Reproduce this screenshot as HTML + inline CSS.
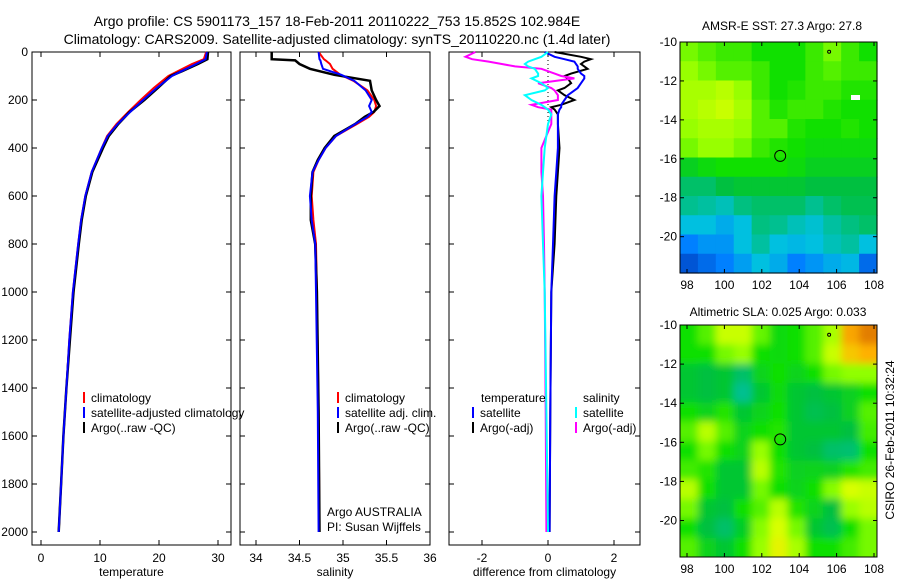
<!DOCTYPE html>
<html><head><meta charset="utf-8"><style>
body{margin:0;background:#fff}
svg{display:block;font-family:"Liberation Sans",sans-serif}
</style></head><body>
<svg id="c" width="900" height="580" xmlns="http://www.w3.org/2000/svg">
<text x="337" y="26" font-size="14" text-anchor="middle">Argo profile: CS 5901173_157 18-Feb-2011 20110222_753 15.852S 102.984E</text>
<text x="337" y="44" font-size="14" text-anchor="middle">Climatology: CARS2009. Satellite-adjusted climatology: synTS_20110220.nc (1.4d later)</text>
<text x="782" y="30" font-size="12" text-anchor="middle">AMSR-E SST: 27.3 Argo: 27.8</text>
<text x="778" y="316" font-size="12" text-anchor="middle">Altimetric SLA: 0.025 Argo: 0.033</text>
<text transform="translate(894,440) rotate(-90)" font-size="12" text-anchor="middle">CSIRO 26-Feb-2011 10:32:24</text>
<defs><filter id="bl"><feGaussianBlur stdDeviation="4"/></filter>
<clipPath id="cp2"><rect x="680" y="325" width="197" height="232"/></clipPath></defs>
</svg>
<script>
// ---- data ----
const depths=[0,30,50,80,100,150,200,250,300,350,400,500,600,700,800,1000,1200,1400,1600,1800,2000];
const tempClim=[28.0,27.6,25.6,23.2,21.6,19.1,16.9,14.8,12.8,11.2,10.3,8.6,7.5,6.8,6.3,5.4,4.8,4.3,3.8,3.4,3.0];
const tempSat=[28.1,27.9,26.3,23.8,22.2,19.6,17.3,15.1,13.0,11.3,10.3,8.6,7.5,6.8,6.3,5.4,4.8,4.3,3.8,3.4,3.0];
const tempArgo=[28.3,28.2,26.6,23.9,22.0,19.8,17.5,15.0,13.1,11.5,10.5,8.7,7.6,6.9,6.4,5.5,4.9,4.3,3.8,3.4,3.0];
const salDepths=[0,30,35,50,70,95,120,160,200,225,250,270,300,350,400,450,500,600,700,800,1000,1500,2000];
const salClim=[34.72,34.78,34.8,34.85,34.88,34.97,35.12,35.28,35.36,35.38,35.36,35.3,35.16,34.92,34.8,34.72,34.66,34.64,34.66,34.69,34.7,34.72,34.73];
const salSat=[34.72,34.73,34.74,34.75,34.77,34.98,35.13,35.26,35.33,35.3,35.33,35.28,35.14,34.92,34.8,34.72,34.65,34.62,34.64,34.68,34.69,34.71,34.72];
const salArgo=[34.18,34.18,34.45,34.5,34.62,34.9,35.31,35.33,35.38,35.42,35.35,35.25,35.14,34.9,34.79,34.71,34.65,34.63,34.63,34.68,34.7,34.72,34.73];
const diffDepths=[0,20,30,40,50,60,70,90,100,110,130,150,160,180,200,220,230,240,260,300,400,500,600,800,1000,1500,2000];
const dTempSat=[-0.1,0.2,0.5,0.8,0.85,0.9,0.9,1.0,1.1,1.1,1.0,0.9,0.8,0.6,0.5,0.4,0.4,0.35,0.3,0.3,0.3,0.25,0.2,0.15,0.1,0.07,0.05];
const dTempArgo=[0.2,1.0,1.3,1.1,1.0,1.1,1.2,0.7,0.5,0.6,0.7,0.5,0.3,0.5,0.8,0.4,0.1,0.2,0.3,0.3,0.35,0.3,0.25,0.2,0.1,0.07,0.05];
const dSalSat=[0.0,-0.2,-0.4,-0.6,-0.7,-0.6,-0.4,-0.3,-0.3,-0.5,-0.2,0.0,-0.1,-0.7,-0.5,-0.2,-0.1,0.0,0.1,0.0,-0.1,-0.15,-0.2,-0.15,-0.1,-0.05,0.0];
const dSalArgo=[-2.2,-2.5,-2.3,-1.8,-1.4,-1.0,-0.2,0.2,0.4,0.8,-0.3,0.1,0.2,0.3,0.3,-0.5,-0.3,0.1,0.1,0.1,-0.2,-0.2,-0.15,-0.12,-0.1,-0.07,-0.05];
const depthTicks=[0,200,400,600,800,1000,1200,1400,1600,1800,2000];
const tempTicks=[0,10,20,30];
const salTicks=[34,34.5,35,35.5,36];
const diffTicks=[-2,0,2];
const lonTicks=[98,100,102,104,106,108];
const latTicks=[-10,-12,-14,-16,-18,-20];
const sstGrid=[
[.72,.68,.65,.65,.6,.6,.6,.65,.72,.65,.6],
[.76,.72,.68,.68,.65,.6,.6,.65,.68,.65,.65],
[.78,.78,.8,.76,.65,.6,.62,.65,.65,.62,.62],
[.78,.8,.82,.78,.68,.62,.65,.65,.62,.6,.6],
[.76,.78,.78,.76,.68,.68,.62,.6,.6,.62,.6],
[.72,.76,.76,.72,.65,.62,.6,.58,.58,.58,.58],
[.55,.58,.6,.6,.6,.6,.58,.55,.55,.55,.55],
[.45,.45,.5,.52,.52,.52,.52,.5,.5,.5,.5],
[.4,.38,.35,.42,.45,.45,.45,.4,.45,.48,.48],
[.3,.3,.25,.3,.42,.4,.35,.32,.38,.42,.45],
[.15,.2,.2,.3,.38,.3,.28,.3,.35,.38,.3],
[.05,.1,.15,.22,.3,.25,.15,.2,.25,.28,.1]];
const slaGrid=[
[.6,.68,.82,.82,.7,.58,.6,.68,.78,.93,.97],
[.6,.6,.72,.76,.6,.58,.6,.68,.82,.9,.92],
[.52,.5,.52,.45,.56,.6,.56,.6,.72,.75,.75],
[.52,.5,.52,.4,.52,.58,.52,.5,.52,.55,.6],
[.6,.56,.62,.52,.56,.6,.52,.48,.5,.55,.68],
[.68,.8,.68,.56,.6,.62,.52,.52,.52,.5,.66],
[.6,.72,.6,.56,.76,.6,.52,.5,.45,.44,.6],
[.66,.62,.52,.52,.8,.62,.55,.56,.55,.62,.66],
[.8,.6,.52,.52,.72,.6,.56,.6,.74,.84,.82],
[.72,.52,.5,.6,.68,.8,.62,.56,.5,.76,.8],
[.6,.5,.45,.54,.74,.84,.72,.52,.48,.6,.72],
[.68,.56,.52,.6,.76,.86,.78,.6,.6,.66,.72]];
const argoLon=102.984, argoLat=-15.852;

// ---- helpers ----
const svg=document.getElementById('c');const NS='http://www.w3.org/2000/svg';
function mk(t,a,p){const e=document.createElementNS(NS,t);for(const k in a)e.setAttribute(k,a[k]);(p||svg).appendChild(e);return e;}
const Y0=52,Y1=545,yD=d=>Y0+d*0.24;
function lin(d0,d1,r0,r1){return v=>r0+(v-d0)*(r1-r0)/(d1-d0);}
const panels=[
 {x0:32,x1:231,sx:lin(0,30,41,218),ticks:tempTicks,label:'temperature',name:'temperature'},
 {x0:240,x1:430,sx:lin(34,36,256,430),ticks:salTicks,label:'salinity',name:'salinity'},
 {x0:449,x1:640,sx:lin(-2,2,482,614),ticks:diffTicks,label:'difference from climatology',name:'difference'}];
function line(xs,ds,sx,col,name,w){
 const p=mk('polyline',{points:xs.map((v,i)=>sx(v).toFixed(1)+','+yD(ds[i]).toFixed(1)).join(' '),fill:'none',stroke:col,'stroke-width':w||2});
 
 
}
panels.forEach((P,pi)=>{
 const g=mk('rect',{x:P.x0,y:Y0,width:P.x1-P.x0,height:Y1-Y0,fill:'none',stroke:'#000'});
 
 
 depthTicks.forEach(d=>{const y=yD(d);
  mk('line',{x1:P.x0,x2:P.x0+5,y1:y,y2:y,stroke:'#000'});mk('line',{x1:P.x1,x2:P.x1-5,y1:y,y2:y,stroke:'#000'});
  if(pi==0){const t=mk('text',{x:28,y:y+4,'font-size':12,'text-anchor':'end'});t.textContent=d;
   
   }
 });
 P.ticks.forEach(v=>{const x=P.sx(v);
  mk('line',{x1:x,x2:x,y1:Y1,y2:Y1-5,stroke:'#000'});mk('line',{x1:x,x2:x,y1:Y0,y2:Y0+5,stroke:'#000'});
  const t=mk('text',{x:x,y:562,'font-size':12,'text-anchor':'middle'});t.textContent=v;
  
  
 });
 const l=mk('text',{x:(P.x0+P.x1)/2,y:576,'font-size':12,'text-anchor':'middle'});l.textContent=P.label;
 
 
});
const [T,S,D]=panels;
line(tempClim,depths,T.sx,'#f00','temp-climatology-line');
line(tempArgo,depths,T.sx,'#000','temp-argo-line',2.5);
line(tempSat,depths,T.sx,'#00f','temp-satellite-line');
line(salClim,salDepths,S.sx,'#f00','sal-climatology-line');
line(salArgo,salDepths,S.sx,'#000','sal-argo-line',2.5);
line(salSat,salDepths,S.sx,'#00f','sal-satellite-line');
mk('line',{x1:D.sx(0),x2:D.sx(0),y1:Y0,y2:yD(300),stroke:'#000','stroke-dasharray':'1,3'});
line(dTempArgo,diffDepths,D.sx,'#000','diff-temp-argo-line');
line(dTempSat,diffDepths,D.sx,'#00f','diff-temp-satellite-line');
line(dSalArgo,diffDepths,D.sx,'#f0f','diff-sal-argo-line');
line(dSalSat,diffDepths,D.sx,'#0ff','diff-sal-satellite-line');
function legend(x,y,col,txt,name){
 mk('line',{x1:x,x2:x,y1:y-10,y2:y+1,stroke:col,'stroke-width':2});
 const t=mk('text',{x:x+7,y:y,'font-size':12});t.textContent=txt;
 
 
}
legend(84,402,'#f00','climatology','legend-climatology');
legend(84,417,'#00f','satellite-adjusted climatology','legend-satellite-adjusted');
legend(84,432,'#000','Argo(..raw -QC)','legend-argo');
legend(338,402,'#f00','climatology','legend-sal-climatology');
legend(338,417,'#00f','satellite adj. clim.','legend-sal-satellite');
legend(338,432,'#000','Argo(..raw -QC)','legend-sal-argo');
{const t=mk('text',{x:481,y:402,'font-size':12});t.textContent='temperature';


const u=mk('text',{x:583,y:402,'font-size':12});u.textContent='salinity';

}
legend(473,417,'#00f','satellite','legend-diff-temp-satellite');
legend(473,432,'#000','Argo(-adj)','legend-diff-temp-argo');
legend(576,417,'#0ff','satellite','legend-diff-sal-satellite');
legend(576,432,'#f0f','Argo(-adj)','legend-diff-sal-argo');
{const a=mk('text',{x:327,y:516,'font-size':12});a.textContent='Argo AUSTRALIA';


const b=mk('text',{x:327,y:531,'font-size':12});b.textContent='PI: Susan Wijffels';

}

// ---- maps ----
const stops=[[0,[0,64,192]],[.15,[0,128,255]],[.3,[0,192,224]],[.4,[0,192,144]],[.5,[0,192,64]],[.6,[16,224,0]],[.75,[144,255,0]],[.85,[224,255,0]],[.92,[255,176,0]],[1,[208,96,0]]];
function cmap(v){for(let i=1;i<stops.length;i++){if(v<=stops[i][0]){const [a,ca]=stops[i-1],[b,cb]=stops[i];const f=(v-a)/(b-a);
 return 'rgb('+ca.map((c,k)=>Math.round(c+(cb[k]-c)*f)).join(',')+')';}}return 'rgb(208,96,0)';}
function map(M,grid,blur,name){
 const sx=lin(98,108,687,874),sy=lin(-10,-20,M.y0,M.y0+(M.y1-M.y0)*193/229);
 const g=mk('g',blur?{'clip-path':'url(#cp2)'}:{});
 
 
 const inner=blur?mk('g',{filter:'url(#bl)'},g):g;
 const nr=grid.length,nc=grid[0].length,cw=(M.x1-M.x0)/nc,ch=(M.y1-M.y0)/nr;
 if(blur)mk('rect',{x:M.x0-20,y:M.y0-20,width:M.x1-M.x0+40,height:M.y1-M.y0+40,fill:cmap(.58)},inner);
 grid.forEach((r,i)=>r.forEach((v,j)=>{
  const c=mk('rect',{x:M.x0+j*cw-(blur&&j==0?20:0),y:M.y0+i*ch-(blur&&i==0?20:0),width:cw+0.6+(blur&&(j==0||j==nc-1)?20:0),height:ch+0.6+(blur&&(i==0||i==nr-1)?20:0),fill:cmap(v)},inner);
  
  
 }));
 const f=mk('rect',{x:M.x0,y:M.y0,width:M.x1-M.x0,height:M.y1-M.y0,fill:'none',stroke:'#000'});
 
 
 lonTicks.forEach(v=>{const x=sx(v);mk('line',{x1:x,x2:x,y1:M.y1,y2:M.y1-4,stroke:'#000'});mk('line',{x1:x,x2:x,y1:M.y0,y2:M.y0+4,stroke:'#000'});
  const t=mk('text',{x:x,y:M.y1+16,'font-size':12,'text-anchor':'middle'});t.textContent=v;
  
  });
 latTicks.forEach(v=>{const y=sy(v);mk('line',{x1:M.x0,x2:M.x0+4,y1:y,y2:y,stroke:'#000'});mk('line',{x1:M.x1,x2:M.x1-4,y1:y,y2:y,stroke:'#000'});
  const t=mk('text',{x:M.x0-3,y:y+4,'font-size':12,'text-anchor':'end'});t.textContent=v;
  
  });
 const o=mk('circle',{cx:sx(argoLon),cy:sy(argoLat),r:5.5,fill:'none',stroke:'#000'});
 
 
 mk('circle',{cx:sx(105.6),cy:sy(-10.5),r:1.5,fill:'none',stroke:'#000'});
}
map({x0:680,x1:877,y0:42,y1:273},sstGrid,false,'sst-map');
mk('rect',{x:851,y:95,width:9,height:5,fill:'#fff'});
map({x0:680,x1:877,y0:325,y1:557},slaGrid,true,'sla-map');
</script>
</body></html>
